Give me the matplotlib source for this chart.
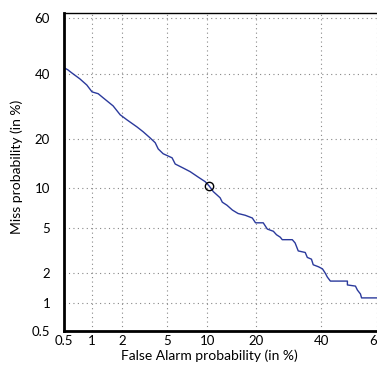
from statistics import NormalDist
import numpy as np
import matplotlib.pyplot as plt

# DET curve values (percent)
false_alarm = [0.5, 0.55, 0.61, 0.75, 0.89, 1.01, 1.17, 1.31, 1.65, 1.93, 2.24, 2.77,
               3.14, 3.61, 3.99, 4.23, 4.65, 5.49, 5.81, 6.69, 7.55, 8.64, 9.68, 10.3,
               11.0, 12.2, 12.6, 13.5, 14.6, 15.8, 17.4, 19.1, 19.9, 21.9, 23.0, 24.7,
               25.6, 26.7, 27.3, 30.4, 31.3, 32.3, 34.6, 35.3, 36.7, 37.3, 39.1, 40.5,
               41.5, 42.2, 43.3, 49.4, 49.4, 52.3, 53.0, 54.1, 54.5, 65.0]
miss = [42.2, 41.5, 40.4, 38.3, 36.2, 33.9, 33.3, 32.0, 29.4, 26.7, 25.2, 23.2,
        21.9, 20.3, 19.1, 17.6, 16.5, 15.6, 14.3, 13.5, 12.8, 11.8, 11.0, 10.3,
        9.4, 8.5, 7.9, 7.5, 6.9, 6.5, 6.3, 6.0, 5.5, 5.5, 4.9, 4.7,
        4.4, 4.2, 4.0, 4.0, 3.75, 3.2, 3.1, 2.8, 2.7, 2.4, 2.3, 2.2,
        2.0, 1.84, 1.68, 1.68, 1.54, 1.50, 1.37, 1.25, 1.14, 1.14]
eer_point = (10.3, 10.3)

tick_vals = [0.5, 1, 2, 5, 10, 20, 40, 60]
tick_labels = ['0.5', '1', '2', '5', '10', '20', '40', '60']

nd = NormalDist()


def probit(p):
    return np.array([nd.inv_cdf(v / 100.0) for v in np.atleast_1d(p)])


plt.rcParams['font.family'] = ['Lato', 'DejaVu Sans']

fig = plt.figure(figsize=(3.77, 3.67), dpi=100)
ax = fig.add_axes([64 / 377, 36 / 367, 318 / 377, 318 / 367])

ax.plot(probit(false_alarm), probit(miss), color='#2b3a9c', linewidth=1.0)
ax.plot(probit(eer_point[0]), probit(eer_point[1]), 'o', markerfacecolor='none',
        markeredgecolor='black', markersize=6, markeredgewidth=1.0)

lo = probit(0.5)[0]
hi = probit(61.7)[0]
ax.set_xlim(lo, hi)
ax.set_ylim(lo, hi)
ax.set_xticks(probit(tick_vals))
ax.set_xticklabels(tick_labels)
ax.set_yticks(probit(tick_vals))
ax.set_yticklabels(tick_labels)
ax.tick_params(length=0, labelsize=9.5)
ax.tick_params(axis='x', pad=3)
ax.tick_params(axis='y', pad=10)
ax.grid(True, color='#888888', linestyle=(0, (1, 3)), linewidth=0.8)

ax.spines['left'].set_linewidth(2.0)
ax.spines['bottom'].set_linewidth(2.0)
ax.spines['top'].set_linewidth(1.0)

ax.set_xlabel('False Alarm probability (in %)', fontsize=10)
ax.set_ylabel('Miss probability (in %)', fontsize=10)
ax.xaxis.set_label_coords(0.4575, -0.057)
ax.yaxis.set_label_coords(-0.129, 0.516)

fig.savefig('out.png', dpi=100)
